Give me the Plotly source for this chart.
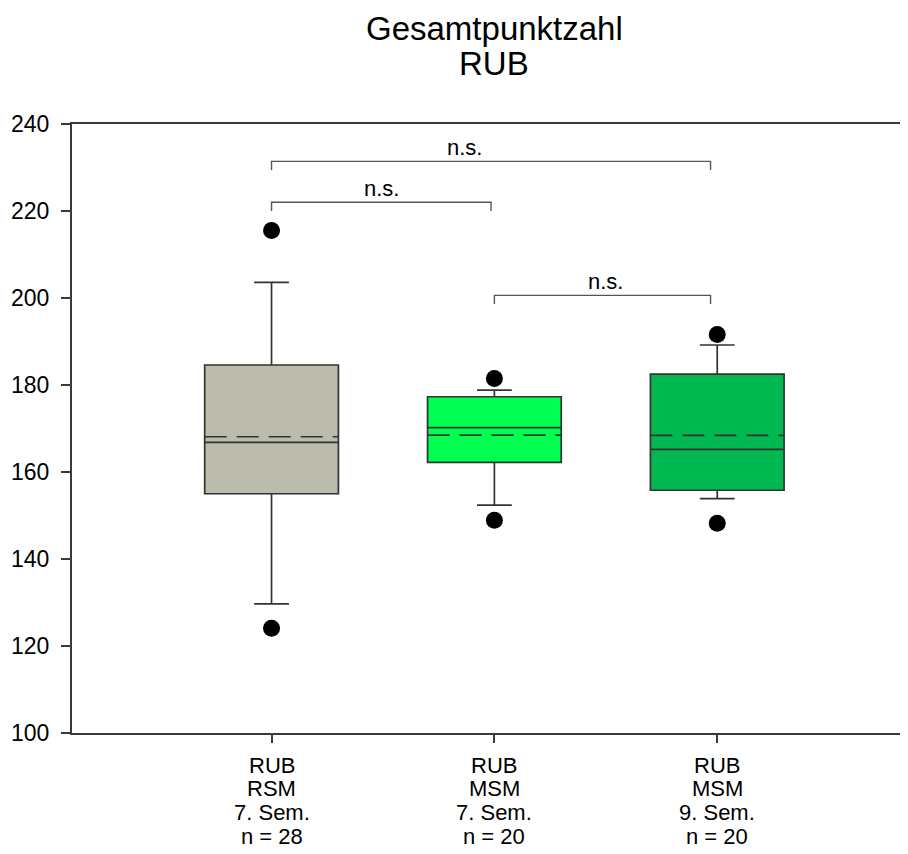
import plotly.graph_objects as go

# ---- data ----
group_lines = [
    ["RUB", "RSM", "7. Sem.", "n = 28"],
    ["RUB", "MSM", "7. Sem.", "n = 20"],
    ["RUB", "MSM", "9. Sem.", "n = 20"],
]
positions = [1, 2, 3]
q1 = [155.0, 162.2, 155.8]
median = [166.8, 170.2, 165.2]
q3 = [184.6, 177.3, 182.5]
lower_whisker = [129.7, 152.4, 153.9]
upper_whisker = [203.6, 178.8, 189.2]
mean = [168.1, 168.5, 168.4]
outlier_low = [124.1, 148.9, 148.2]
outlier_high = [215.5, 181.5, 191.6]
fills = ["#BBBCAB", "#00FF50", "#00B850"]

# significance brackets
br_left = [1.0, 1.0, 2.0]
br_right = [2.97, 1.985, 2.97]
br_y = [231.4, 222.0, 200.6]
br_label_x = [1.868, 1.492, 2.497]
br_labels = ["n.s.", "n.s.", "n.s."]

yticks = [100, 120, 140, 160, 180, 200, 220, 240]
title_lines = ["Gesamtpunktzahl", "RUB"]

FONT = "Arial, Liberation Sans, sans-serif"
BOX_W = 0.6

fig = go.Figure()
for i in range(3):
    fig.add_trace(go.Box(
        x=[positions[i]],
        q1=[q1[i]], median=[median[i]], q3=[q3[i]],
        lowerfence=[lower_whisker[i]], upperfence=[upper_whisker[i]],
        width=BOX_W, whiskerwidth=0.26,
        fillcolor=fills[i],
        line=dict(color="#333333", width=1.7),
        showlegend=False, hoverinfo="skip",
    ))
    # mean line (long dashes)
    fig.add_trace(go.Scatter(
        x=[positions[i] - BOX_W / 2, positions[i] + BOX_W / 2], y=[mean[i], mean[i]],
        mode="lines", line=dict(color="#333333", width=1.7, dash="22px,10px"),
        showlegend=False, hoverinfo="skip",
    ))
    fig.add_trace(go.Scatter(
        x=[positions[i], positions[i]], y=[outlier_low[i], outlier_high[i]],
        mode="markers", marker=dict(color="black", size=17),
        showlegend=False, hoverinfo="skip",
    ))

drop = 2.0
for i in range(len(br_y)):
    fig.add_trace(go.Scatter(
        x=[br_left[i], br_left[i], br_right[i], br_right[i]],
        y=[br_y[i] - drop, br_y[i], br_y[i], br_y[i] - drop],
        mode="lines", line=dict(color="#555555", width=1.4),
        showlegend=False, hoverinfo="skip",
    ))
    fig.add_annotation(x=br_label_x[i], y=br_y[i] + 3.1, text=br_labels[i],
                       showarrow=False, yanchor="middle", xanchor="center",
                       font=dict(family=FONT, size=22, color="black"))

# category labels, one line each (tight line spacing)
for i, lines in enumerate(group_lines):
    for j, t in enumerate(lines):
        fig.add_annotation(x=positions[i], xref="x", y=0, yref="paper",
                           text=t, showarrow=False, xanchor="center", yanchor="middle",
                           yshift=-32 - 23.7 * j,
                           font=dict(family=FONT, size=22, color="black"))

# title lines
for j, t in enumerate(title_lines):
    fig.add_annotation(x=0.5, xref="paper", y=1, yref="paper", text=t,
                       showarrow=False, xanchor="center", yanchor="middle",
                       xshift=4, yshift=96 - 35 * j,
                       font=dict(family=FONT, size=33, color="black"))

fig.update_layout(
    width=900, height=846,
    margin=dict(l=64, r=0, t=116, b=121, pad=0),
    plot_bgcolor="white", paper_bgcolor="white",
    font=dict(family=FONT, color="black"),
)
fig.update_xaxes(
    range=[0.1046, 3.856], tickvals=positions, ticktext=["", "", ""],
    showgrid=False, zeroline=False,
    showline=True, linecolor="#3a3a3a", linewidth=2, mirror=True,
    ticks="outside", ticklen=8, tickwidth=1.5, tickcolor="#3a3a3a",
)
fig.update_yaxes(
    range=[100, 240], tickvals=yticks,
    showgrid=False, zeroline=False,
    showline=True, linecolor="#3a3a3a", linewidth=2, mirror=False,
    ticks="outside", ticklen=9, tickwidth=1.5, tickcolor="#3a3a3a",
    ticklabelstandoff=7,
    tickfont=dict(family=FONT, size=23, color="black"),
)

fig.write_html("out.html")
